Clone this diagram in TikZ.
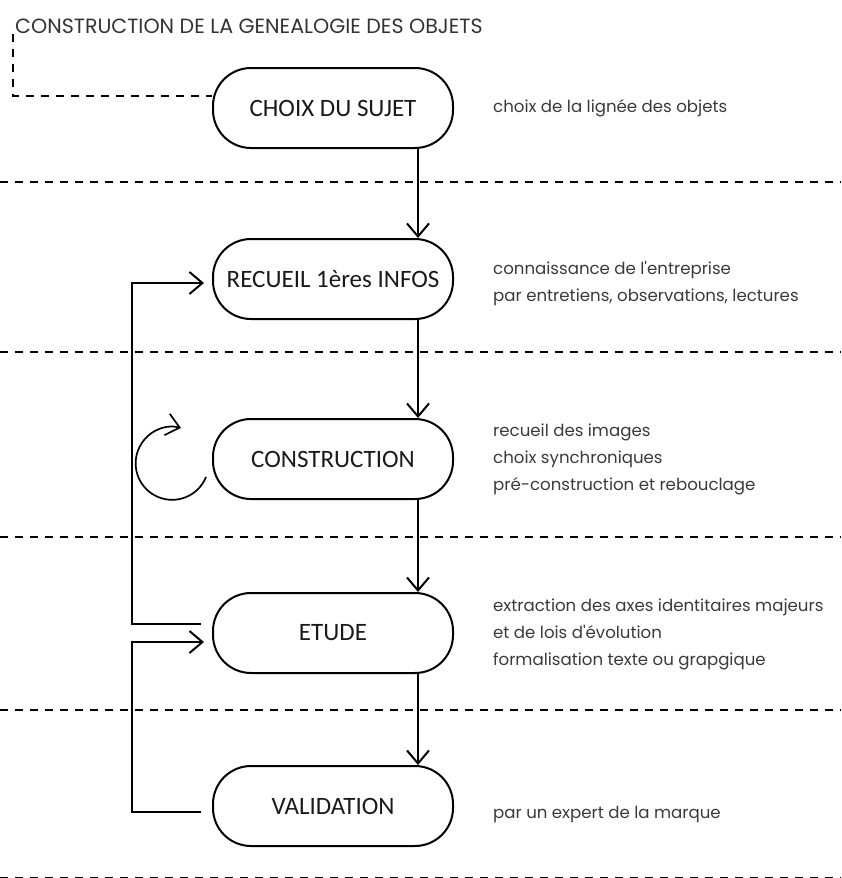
\documentclass[tikz,border=0pt]{standalone}
\usepackage{fontspec}
\setmainfont{Carlito}
\newfontfamily\geo{Poppins}
\usetikzlibrary{arrows.meta}
\definecolor{txtgray}{HTML}{3A3A3A}
\definecolor{ttlgray}{HTML}{333333}
\definecolor{boxtxt}{HTML}{1A1A1A}
\begin{document}
\begin{tikzpicture}[x=1pt,y=-1pt,
 stepbox/.style={draw, line width=2pt, rounded corners=38pt, minimum width=240pt, minimum height=80pt, font=\fontsize{25}{30}\selectfont, text=boxtxt, inner sep=0pt},
 flow/.style={line width=2pt, -{Straight Barb[length=13pt,width=22pt]}},
 sep/.style={dash pattern=on 8pt off 7pt, line width=2pt},
 note/.style={anchor=west, align=left, font=\geo\fontsize{16.6}{27}\selectfont, text=txtgray, inner sep=0pt}]
\useasboundingbox (0,0) rectangle (841,878);

\node[anchor=base west, inner sep=0pt, font=\geo\fontsize{20.6}{24}\selectfont, text=ttlgray] (title) at (15,33) {CONSTRUCTION DE LA GENEALOGIE DES OBJETS};

\node[stepbox] (choix) at (333,108) {CHOIX DU SUJET};
\node[stepbox] (recueil) at (333,279) {RECUEIL 1ères INFOS};
\node[stepbox] (constr) at (333,459) {CONSTRUCTION};
\node[stepbox] (etude) at (333,633) {ETUDE};
\node[stepbox] (valid) at (333,806) {VALIDATION};

\node[note] (n1) at (493,108) {choix de la lignée des objets};
\node[note] (n2) at (493,284) {connaissance de l'entreprise\\par entretiens, observations, lectures};
\node[note] (n3) at (493,459) {recueil des images\\choix synchroniques\\pré-construction et rebouclage};
\node[note] (n4) at (493,634) {extraction des axes identitaires majeurs\\et de lois d'évolution\\formalisation texte ou grapgique};
\node[note] (n5) at (493,815) {par un expert de la marque};

% separators
\foreach \yy in {182,352,537,710,878}
  \draw[sep] (0,\yy) -- (841,\yy);

% top-left dashed link
\coordinate (tl) at (13,34);
\draw[sep] (tl) |- ([yshift=12pt]choix.west);

% main flow
\draw[flow] ([xshift=-36pt]choix.south east) -- ([xshift=-36pt]recueil.north east);
\draw[flow] ([xshift=-36pt]recueil.south east) -- ([xshift=-36pt]constr.north east);
\draw[flow] ([xshift=-36pt]constr.south east) -- ([xshift=-36pt]etude.north east);
\draw[flow] ([xshift=-36pt]etude.south east) -- ([xshift=-36pt]valid.north east);

% feedback loops
\draw[flow] ([xshift=-11pt,yshift=9pt]etude.west) -- ++(-69,0) |- ([xshift=-8pt,yshift=-4pt]recueil.west);
\draw[flow] ([xshift=-11pt,yshift=-6pt]valid.west) -- ++(-69,0) |- ([xshift=-8pt,yshift=-9pt]etude.west);

% self loop
\draw[flow, line width=1.7pt] ([xshift=-6pt,yshift=-18pt]constr.west) arc[start angle=22, end angle=284, radius=36.5];
\end{tikzpicture}
\end{document}
